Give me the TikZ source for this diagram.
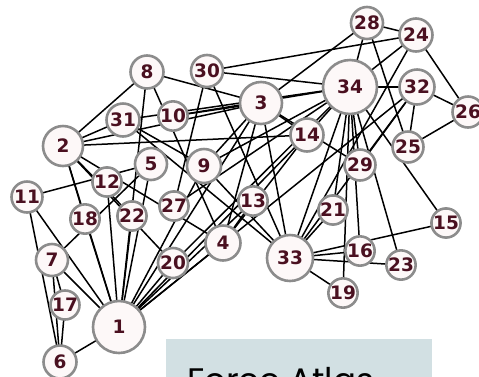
\documentclass[tikz,border=0pt]{standalone}
\usepackage{fontspec}
\newfontfamily\nodefont{DejaVu Sans}[BoldFont=* Bold]
\newfontfamily\titlefont{Poppins}
\definecolor{ndborder}{HTML}{8C8C8C}
\definecolor{ndfill}{HTML}{FDF8F8}
\definecolor{ndtext}{HTML}{4A1020}
\definecolor{boxfill}{HTML}{D2E0E3}
\tikzset{
  nd/.style={circle, draw=ndborder, line width=2.6pt, fill=ndfill, inner sep=0pt,
    minimum size=#1, text=ndtext, font=\nodefont\bfseries\fontsize{18.5}{18.5}\selectfont},
  edge/.style={draw=black, line width=1.5pt}
}
\begin{document}
\begin{tikzpicture}[x=1pt,y=-1pt]
\useasboundingbox (0,0) rectangle (479,376);
\clip (0,0) rectangle (479,376);
% caption box
\fill[boxfill] (166,339) rectangle (432,380);
\node[anchor=base west, inner sep=0pt, font=\titlefont\fontsize{34}{34}\selectfont, text=black] (title) at (187,392) {Force Atlas};
% node coordinates
\coordinate (p1) at (119,327);
\coordinate (p2) at (63,146);
\coordinate (p3) at (261,103);
\coordinate (p4) at (223,243);
\coordinate (p5) at (151,164);
\coordinate (p6) at (60,362);
\coordinate (p7) at (52,260);
\coordinate (p8) at (147,72);
\coordinate (p9) at (204,166);
\coordinate (p10) at (173,116);
\coordinate (p11) at (27,197);
\coordinate (p12) at (107,182);
\coordinate (p13) at (253,201);
\coordinate (p14) at (307,135);
\coordinate (p15) at (446,223);
\coordinate (p16) at (360,251);
\coordinate (p17) at (65,305);
\coordinate (p18) at (85,219);
\coordinate (p19) at (343,293);
\coordinate (p20) at (173,263);
\coordinate (p21) at (333,210);
\coordinate (p22) at (132,216);
\coordinate (p23) at (401,265);
\coordinate (p24) at (416,35);
\coordinate (p25) at (408,147);
\coordinate (p26) at (468,112);
\coordinate (p27) at (174,206);
\coordinate (p28) at (367,23);
\coordinate (p29) at (360,165);
\coordinate (p30) at (207,71);
\coordinate (p31) at (123,120);
\coordinate (p32) at (417,87);
\coordinate (p33) at (290,258);
\coordinate (p34) at (350,87);
% edges
\foreach \a/\b in {1/2,1/3,1/4,1/5,1/6,1/7,1/8,1/9,1/11,1/12,1/13,1/14,1/18,1/20,1/22,1/32,
  2/3,2/4,2/8,2/14,2/18,2/20,2/22,2/31,
  3/4,3/8,3/9,3/10,3/14,3/28,3/29,3/33,
  4/8,4/13,4/14, 5/7,5/11, 6/7,6/11,6/17, 7/17,
  9/31,9/33,9/34, 10/34, 14/34, 15/33,15/34, 16/33,16/34, 19/33,19/34, 20/34,
  21/33,21/34, 23/33,23/34, 24/26,24/28,24/30,24/33,24/34, 25/26,25/28,25/32,
  26/32, 27/30,27/34, 28/34, 29/32,29/34, 30/33,30/34, 31/33,31/34, 32/33,32/34, 33/34}
  {\draw[edge] (p\a) -- (p\b);}
% nodes
\node[nd=52pt] (n1) at (p1) {1};
\node[nd=40pt] (n2) at (p2) {2};
\node[nd=42pt] (n3) at (p3) {3};
\node[nd=35pt] (n4) at (p4) {4};
\node[nd=32pt] (n5) at (p5) {5};
\node[nd=33pt] (n6) at (p6) {6};
\node[nd=32pt] (n7) at (p7) {7};
\node[nd=33pt] (n8) at (p8) {8};
\node[nd=34pt] (n9) at (p9) {9};
\node[nd=29pt] (n10) at (p10) {10};
\node[nd=31pt] (n11) at (p11) {11};
\node[nd=27pt] (n12) at (p12) {12};
\node[nd=29pt] (n13) at (p13) {13};
\node[nd=33pt] (n14) at (p14) {14};
\node[nd=29pt] (n15) at (p15) {15};
\node[nd=29pt] (n16) at (p16) {16};
\node[nd=27pt] (n17) at (p17) {17};
\node[nd=29pt] (n18) at (p18) {18};
\node[nd=29pt] (n19) at (p19) {19};
\node[nd=30pt] (n20) at (p20) {20};
\node[nd=29pt] (n21) at (p21) {21};
\node[nd=29pt] (n22) at (p22) {22};
\node[nd=29pt] (n23) at (p23) {23};
\node[nd=33pt] (n24) at (p24) {24};
\node[nd=31pt] (n25) at (p25) {25};
\node[nd=31pt] (n26) at (p26) {26};
\node[nd=28pt] (n27) at (p27) {27};
\node[nd=32pt] (n28) at (p28) {28};
\node[nd=31pt] (n29) at (p29) {29};
\node[nd=32pt] (n30) at (p30) {30};
\node[nd=33pt] (n31) at (p31) {31};
\node[nd=35pt] (n32) at (p32) {32};
\node[nd=46pt] (n33) at (p33) {33};
\node[nd=54pt] (n34) at (p34) {34};
\end{tikzpicture}
\end{document}
